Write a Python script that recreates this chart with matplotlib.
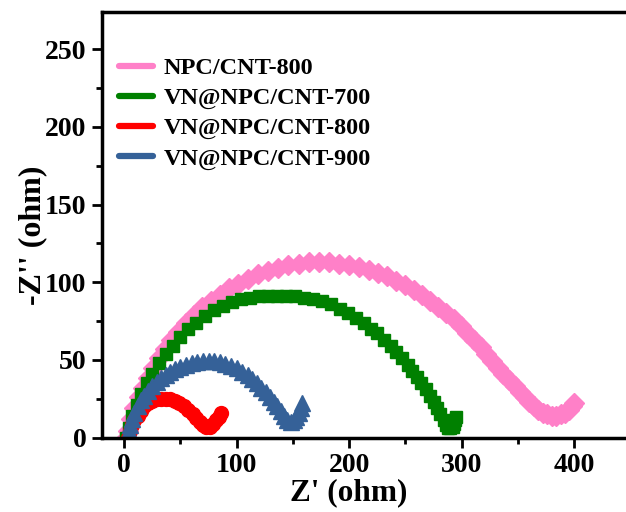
import matplotlib
matplotlib.use("Agg")
import matplotlib.pyplot as plt
from matplotlib.lines import Line2D
from matplotlib.ticker import MultipleLocator

plt.rcParams['font.family'] = ['Liberation Serif', 'DejaVu Serif']
plt.rcParams['font.weight'] = 'bold'

labels = ["NPC/CNT-800", "VN@NPC/CNT-700", "VN@NPC/CNT-800", "VN@NPC/CNT-900"]
colors = ["#FF80C8", "#008000", "#FF0000", "#356198"]

npc800_x = [2, 3, 6, 9, 13, 17, 21, 26, 31, 36, 42, 48, 55, 62, 69, 77, 85, 93, 101, 110,
            119, 128, 137, 146, 155, 164, 173, 182, 191, 200, 209, 218, 226, 234, 242, 250,
            258, 265, 272, 279, 286, 293, 299, 305, 311, 317, 322, 327, 332, 337, 342, 347,
            352, 356, 360, 364, 368, 372, 376, 380, 384, 388, 392, 395, 398, 400]
npc800_y = [0, 4, 12, 19, 26, 32, 38, 45, 51, 57, 63, 68, 74, 79, 84, 88, 92, 96, 99, 102,
            105, 107, 109, 111, 112, 113, 113, 113, 112, 111, 110, 108, 106, 104, 101, 98,
            95, 92, 88, 84, 80, 76, 72, 67, 63, 58, 54, 49, 45, 41, 37, 33,
            29, 26, 23, 20, 18, 16, 15, 14, 14, 15, 16, 18, 20, 22]

vn700_x = [2, 4, 7, 11, 15, 20, 25, 31, 37, 43, 50, 57, 64, 72, 80, 88, 96, 104, 112, 120,
           128, 136, 144, 152, 160, 168, 176, 184, 192, 199, 206, 213, 219, 225, 231, 237,
           242, 247, 252, 256, 260, 264, 268, 272, 275, 278, 281, 284, 286, 288, 290, 292,
           293, 294, 295]
vn700_y = [0, 6, 14, 21, 28, 35, 41, 48, 54, 59, 65, 70, 74, 78, 82, 85, 87, 89, 90, 91,
           91, 91, 91, 91, 90, 89, 88, 86, 83, 80, 77, 74, 70, 67, 63, 59,
           55, 51, 47, 43, 39, 35, 31, 27, 23, 19, 15, 11, 8, 6, 6, 7,
           9, 11, 13]

vn800_x = [3, 5, 7, 9, 12, 15, 18, 21, 25, 29, 33, 37, 41, 45, 49, 53, 57, 61, 64, 67,
           70, 73, 76, 79, 82, 84, 86]
vn800_y = [0, 4, 8, 11, 14, 17, 20, 22, 23.5, 24.5, 25, 25, 24.5, 23.5, 22, 20, 17.5, 15,
           12.5, 10, 8, 7, 7, 8.5, 11, 13.5, 16]

vn900_x = [3, 4, 5, 7, 9, 12, 15, 18, 21, 25, 29, 33, 37, 41, 45, 50, 55, 60, 65, 70, 75,
           80, 85, 90, 95, 100, 105, 110, 114, 118, 122, 126, 130, 133, 136, 139, 142, 145,
           148, 151, 153, 155, 157, 158]
vn900_y = [0, 4, 8, 12, 16, 20, 24, 27, 30, 33, 36, 38, 40, 42, 44, 45.5, 47, 48, 48.5, 49,
           49, 49, 48.5, 47.5, 46, 44.5, 42.5, 40, 37.5, 35, 32, 29, 26, 23, 20, 17, 14, 11,
           10, 11, 13, 16, 19, 22]

xticks = [0, 100, 200, 300, 400]
yticks = [0, 50, 100, 150, 200, 250]

W, H = 626, 512
L, R, T, B = 101.7, 630.5, 12, 437.5
fig = plt.figure(figsize=(W / 100, H / 100), dpi=100)
ax = fig.add_axes([L / W, (H - B) / H, (R - L) / W, (B - T) / H])

ax.plot(npc800_x, npc800_y, linestyle='none', marker='D', ms=10, color=colors[0], mec=colors[0])
ax.plot(vn700_x, vn700_y, linestyle='none', marker='s', ms=8, color=colors[1], mec=colors[1])
ax.plot(vn800_x, vn800_y, linestyle='none', marker='o', ms=10, color=colors[2], mec=colors[2])
ax.plot(vn900_x, vn900_y, linestyle='none', marker='^', ms=11, color=colors[3], mec=colors[3])

ax.set_xlim(-20, 450)
ax.set_ylim(0, 274)
ax.set_xticks(xticks)
ax.set_yticks(yticks)
ax.xaxis.set_minor_locator(MultipleLocator(50))
ax.yaxis.set_minor_locator(MultipleLocator(25))
ax.tick_params(which='major', direction='out', length=7, width=2, labelsize=20, pad=4)
ax.tick_params(which='minor', direction='out', length=4, width=2)
ax.tick_params(top=False, right=False)
for lab in ax.get_xticklabels() + ax.get_yticklabels():
    lab.set_fontweight('bold')
for s in ax.spines.values():
    s.set_linewidth(2.5)
ax.spines['right'].set_visible(False)

ax.set_xlabel("Z' (ohm)", fontsize=22.5, fontweight='bold')
ax.set_ylabel("-Z'' (ohm)", fontsize=23, fontweight='bold')
ax.xaxis.set_label_coords((349 - L) / (R - L), -(493 - B) / (B - T), transform=ax.transAxes)
ax.xaxis.label.set_va('center')
ax.yaxis.set_label_coords(-(L - 33) / (R - L), (B - 235) / (B - T), transform=ax.transAxes)
ax.yaxis.label.set_va('center')

handles = [Line2D([0], [0], color=c, lw=4.5, solid_capstyle='round') for c in colors]
fig.legend(handles, labels, loc='upper left', bbox_to_anchor=(119 / W, 1 - 57 / H),
           bbox_transform=fig.transFigure, frameon=False, borderpad=0, borderaxespad=0,
           handlelength=1.4, handletextpad=0.45, labelspacing=0.33,
           prop={'family': 'Liberation Serif', 'weight': 'bold', 'size': 17.5})

fig.savefig("out.png", dpi=100)
